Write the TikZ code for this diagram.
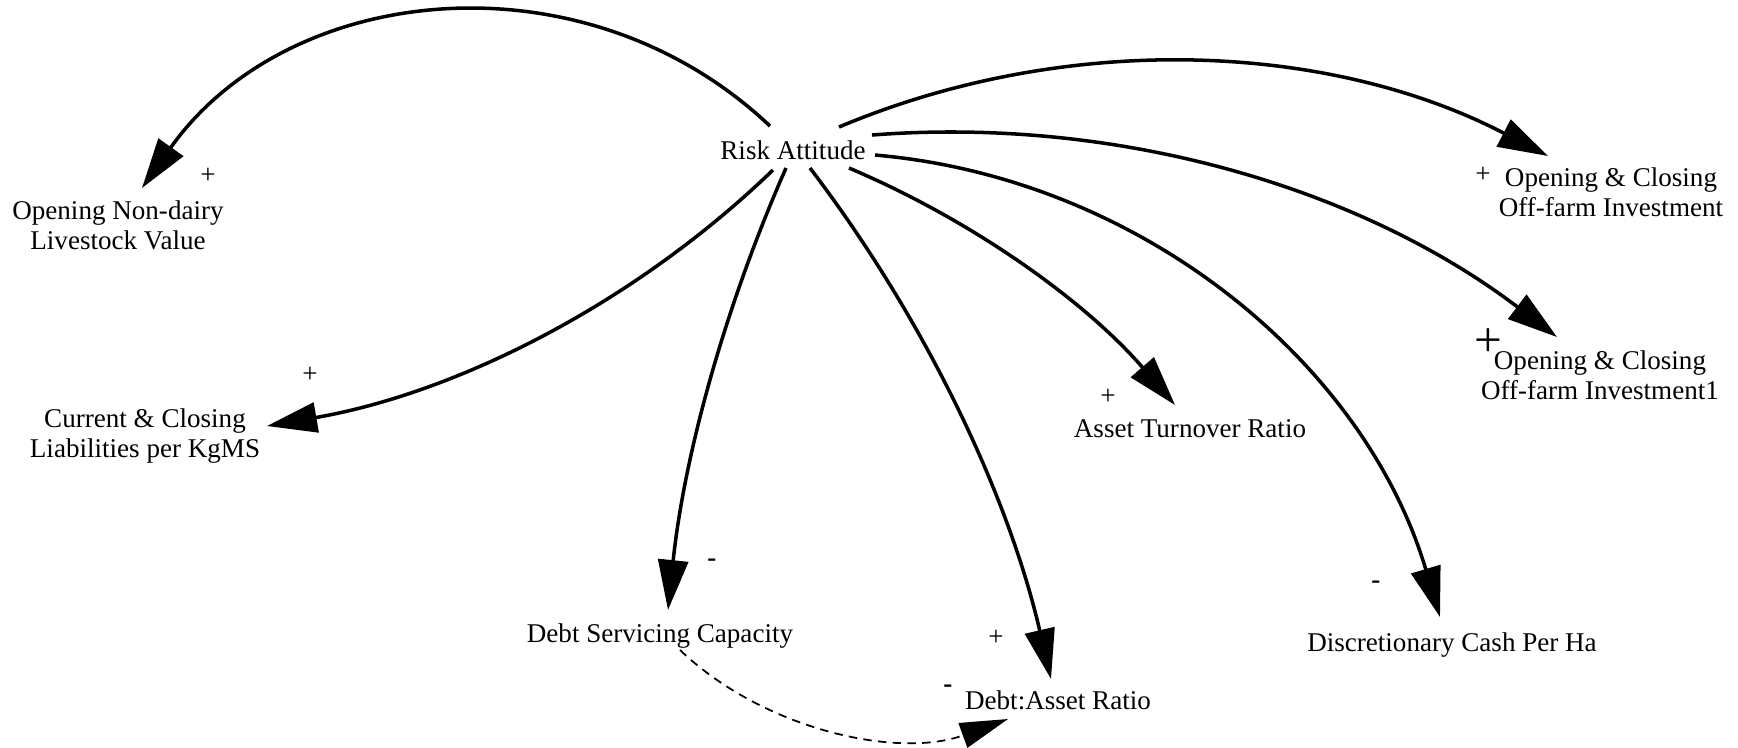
\documentclass[tikz,border=0pt]{standalone}
\usepackage{fontspec}
\setmainfont{Liberation Serif}
\usetikzlibrary{arrows.meta}
\begin{document}
\begin{tikzpicture}[x=0.01cm,y=-0.01cm,
  var/.style={anchor=base,inner sep=0pt,align=center,font=\fontsize{7.7}{8.5}\selectfont},
  pol/.style={inner sep=0pt,font=\fontsize{7.7}{8.5}\selectfont},
  link/.style={line width=1pt,-{Triangle[length=5mm,width=3mm]}},
  dlink/.style={line width=0.5pt,dash pattern=on 2.4pt off 1.8pt,-{Triangle[length=4.8mm,width=2.6mm]}}]
\useasboundingbox (0,0) rectangle (1738,747);
% multi-line nodes: base anchor = baseline of the last line
\node[var] (ra) at (793,159) {Risk Attitude};
\node[var] (ondl) at (118,249) {Opening Non-dairy\\Livestock Value};
\node[var] (ccl) at (145,457) {Current \& Closing\\Liabilities per KgMS};
\node[var] (dsc) at (660,642) {Debt Servicing Capacity};
\node[var] (dar) at (1058,709) {Debt:Asset Ratio};
\node[var] (atr) at (1190,437) {Asset Turnover Ratio};
\node[var] (dcph) at (1452,651) {Discretionary Cash Per Ha};
\node[var] (oci) at (1611,216) {Opening \& Closing\\Off-farm Investment};
\node[var] (oci1) at (1600,399) {Opening \& Closing\\Off-farm Investment1};
\node[pol] (p1) at (208,176) {+};
\node[pol] (p2) at (310,375) {+};
\node[pol] (p3) at (712,563) {\bfseries -};
\node[pol] (p4) at (996,638) {+};
\node[pol] (p5) at (948,689) {\bfseries -};
\node[pol] (p6) at (1108,397) {+};
\node[pol] (p7) at (1376,585) {\bfseries -};
\node[pol] (p8) at (1483,175) {+};
\node[pol,font=\fontsize{14}{14}\selectfont] (p9) at (1488,343) {+};
\draw[link] ([shift={(-23,-33)}]ra.base) .. controls +(-185,-175) and +(147,-207) .. ([shift={(24,-61)}]ondl.base);
\draw[link] ([shift={(-20,11)}]ra.base) .. controls +(-139,134) and +(190,-33) .. ([shift={(122,-31)}]ccl.base);
\draw[link] ([shift={(-7,9)}]ra.base) .. controls +(-62,141) and +(16,-153) .. ([shift={(8,-32)}]dsc.base);
\draw[link] ([shift={(17,9)}]ra.base) .. controls +(115,151) and +(-43,-185) .. ([shift={(-7,-30)}]dar.base);
\draw[link] ([shift={(56,9)}]ra.base) .. controls +(125,53) and +(-89,-103) .. ([shift={(-15,-32)}]atr.base);
\draw[link] ([shift={(82,-4)}]ra.base) .. controls +(265,23) and +(-76,-255) .. ([shift={(-12,-34)}]dcph.base);
\draw[link] ([shift={(79,-24)}]ra.base) .. controls +(246,-19) and +(-196,-149) .. ([shift={(-43,-62)}]oci1.base);
\draw[link] ([shift={(46,-32)}]ra.base) .. controls +(228,-96) and +(-220,-114) .. ([shift={(-63,-60)}]oci.base);
\draw[dlink] ([shift={(20,8)}]dsc.base) .. controls +(84,80) and +(-110,40) .. ([shift={(-50,10)}]dar.base);
\end{tikzpicture}
\end{document}
